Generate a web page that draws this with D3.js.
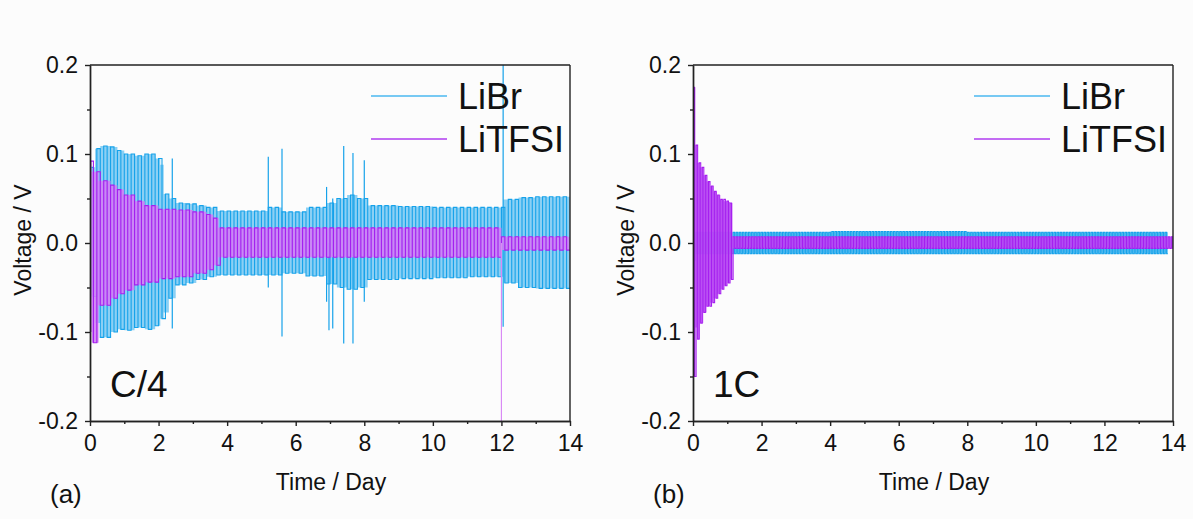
<!DOCTYPE html>
<html><head><meta charset="utf-8">
<script src="https://cdn.jsdelivr.net/npm/d3@7"></script>
<style>
html,body{margin:0;padding:0;background:#fcfcfc;}
svg{display:block;font-family:"Liberation Sans",Arial,sans-serif;}
</style></head><body>
<svg id="chart" width="1193" height="519"></svg>
<script>
// ---------------- data ----------------
const xTicks = [0, 2, 4, 6, 8, 10, 12, 14];
const xMinorTicks = [1, 3, 5, 7, 9, 11, 13];
const yTicks = [-0.2, -0.1, 0.0, 0.1, 0.2];
const yMinorTicks = [-0.15, -0.05, 0.05, 0.15];
const seriesNames = ["LiBr", "LiTFSI"];
const panelLabels = ["(a)", "(b)"];
const rateLabels = ["C/4", "1C"];
const xTitle = "Time / Day";
const yTitle = "Voltage / V";

// half-cycle duration (day) of the galvanostatic cycling
const c4HalfCycleDay = 0.1;
const oneCHalfCycleDay = 0.045;

// C/4, LiBr : envelope readings (day, upper, lower); last day = end of record
const c4LiBrDay  = [0.00, 0.15, 0.30, 0.60, 0.80, 1.00, 1.30, 1.60, 1.90, 2.05, 2.15, 2.30, 2.50, 2.80, 3.10, 3.40, 3.70, 5.20, 5.60, 6.30, 6.90, 7.20, 7.50, 7.80, 8.10, 9.00, 10.0, 11.0, 12.05, 12.5, 13.0, 14.0];
const c4LiBrHigh = [0.085, 0.106, 0.109, 0.108, 0.104, 0.100, 0.098, 0.100, 0.095, 0.088, 0.055, 0.050, 0.045, 0.044, 0.042, 0.040, 0.036, 0.040, 0.035, 0.040, 0.045, 0.050, 0.054, 0.050, 0.042, 0.041, 0.040, 0.040, 0.049, 0.051, 0.052, 0.052];
const c4LiBrLow  = [-0.060, -0.090, -0.106, -0.100, -0.097, -0.098, -0.095, -0.097, -0.093, -0.085, -0.078, -0.062, -0.047, -0.045, -0.041, -0.038, -0.036, -0.036, -0.034, -0.037, -0.046, -0.050, -0.052, -0.050, -0.041, -0.040, -0.039, -0.038, -0.045, -0.050, -0.051, -0.051];
const c4LiBrSpikeDay = [2.40, 2.40, 5.20, 5.20, 5.60, 5.60, 6.90, 6.90, 6.97, 7.08, 7.08, 7.40, 7.40, 7.67, 7.67, 8.00, 8.00, 12.05, 12.05];
const c4LiBrSpikeV   = [0.095, -0.096, 0.097, -0.050, 0.106, -0.105, 0.063, -0.066, -0.098, 0.050, -0.096, 0.109, -0.113, 0.101, -0.113, 0.093, -0.066, 0.200, -0.094];

// C/4, LiTFSI
const c4LiTFSIDay  = [0.00, 0.05, 0.25, 0.60, 0.80, 1.00, 1.30, 1.60, 2.00, 2.50, 3.00, 3.40, 3.60, 3.75, 12.0, 14.0];
const c4LiTFSIHigh = [0.092, 0.080, 0.070, 0.065, 0.060, 0.054, 0.047, 0.042, 0.038, 0.037, 0.035, 0.032, 0.028, 0.017, 0.007, 0.007];
const c4LiTFSILow  = [-0.100, -0.112, -0.070, -0.062, -0.057, -0.053, -0.047, -0.044, -0.040, -0.038, -0.034, -0.030, -0.025, -0.016, -0.008, -0.008];
const c4LiTFSISpikeDay = [12.0];
const c4LiTFSISpikeV   = [-0.200];

// 1C, LiBr
const oneCLiBrDay  = [0.00, 0.10, 1.15, 4.00, 8.00, 12.0, 13.85];
const oneCLiBrHigh = [0.012, 0.012, 0.012, 0.013, 0.012, 0.012, 0.012];
const oneCLiBrLow  = [-0.012, -0.012, -0.012, -0.012, -0.012, -0.012, -0.012];
const oneCLiBrSpikeDay = [0.03, 0.06];
const oneCLiBrSpikeV   = [0.158, -0.020];

// 1C, LiTFSI
const oneCLiTFSIDay  = [0.00, 0.07, 0.12, 0.20, 0.30, 0.40, 0.50, 0.60, 0.70, 0.80, 0.90, 1.00, 1.08, 1.15, 14.0];
const oneCLiTFSIHigh = [0.175, 0.110, 0.090, 0.085, 0.076, 0.069, 0.064, 0.058, 0.054, 0.049, 0.047, 0.046, 0.045, 0.007, 0.007];
const oneCLiTFSILow  = [-0.150, -0.095, -0.108, -0.090, -0.078, -0.071, -0.067, -0.062, -0.057, -0.052, -0.048, -0.045, -0.041, -0.006, -0.006];
const oneCLiTFSISpikeDay = [];
const oneCLiTFSISpikeV   = [];

// ---------------- styles ----------------
const styles = {
  LiBr:   {line: "#16a2ea", fill: "#7ecbf3", legend: "#4bb8f0"},
  LiTFSI: {line: "#a51ff0", fill: "#cf80f5", legend: "#b03cf0", spike: "#d98af5"}
};

const panels = [
  {left: 90, right: 570, top: 65, bottom: 421, half: c4HalfCycleDay,
   series: [
     {name: "LiBr", day: c4LiBrDay, hi: c4LiBrHigh, lo: c4LiBrLow, sDay: c4LiBrSpikeDay, sV: c4LiBrSpikeV},
     {name: "LiTFSI", day: c4LiTFSIDay, hi: c4LiTFSIHigh, lo: c4LiTFSILow, sDay: c4LiTFSISpikeDay, sV: c4LiTFSISpikeV}
   ]},
  {left: 693, right: 1173, top: 65, bottom: 421, half: oneCHalfCycleDay,
   series: [
     {name: "LiBr", day: oneCLiBrDay, hi: oneCLiBrHigh, lo: oneCLiBrLow, sDay: oneCLiBrSpikeDay, sV: oneCLiBrSpikeV},
     {name: "LiTFSI", day: oneCLiTFSIDay, hi: oneCLiTFSIHigh, lo: oneCLiTFSILow, sDay: oneCLiTFSISpikeDay, sV: oneCLiTFSISpikeV}
   ]}
];

const svg = d3.select("#chart");
const fmt = d => d.toFixed(1);

panels.forEach((p, pi) => {
  const x = d3.scaleLinear().domain([0, 14]).range([p.left, p.right]);
  const y = d3.scaleLinear().domain([-0.2, 0.2]).range([p.bottom, p.top]);
  const g = svg.append("g");

  const clipId = "clip" + pi;
  svg.append("clipPath").attr("id", clipId).append("rect")
    .attr("x", p.left).attr("y", p.top)
    .attr("width", p.right - p.left).attr("height", p.bottom - p.top);
  const plot = g.append("g").attr("clip-path", `url(#${clipId})`);

  p.series.forEach(s => {
    const st = styles[s.name];
    const rows = s.day.map((d, i) => ({d, hi: s.hi[i], lo: s.lo[i]}));
    // light band between envelope readings
    const area = d3.area().curve(d3.curveStepAfter)
      .x(r => x(r.d)).y0(r => y(r.lo)).y1(r => y(r.hi));
    plot.append("path").datum(rows).attr("d", area)
      .attr("fill", st.fill).attr("fill-opacity", 0.9);

    // square-wave cycling trace built from the envelope readings
    const end = s.day[s.day.length - 1];
    const look = t => rows[Math.max(0, d3.bisectRight(s.day, t) - 1)];
    const pts = [];
    for (let k = 0; s.day[0] + k * p.half < end; k++) {
      const t = s.day[0] + k * p.half;
      const r = look(t);
      pts.push([t, k % 2 === 0 ? r.hi : r.lo]);
    }
    let dStr = `M${x(pts[0][0])},${y(pts[0][1])}`;
    for (let k = 1; k < pts.length; k++) {
      dStr += `H${x(pts[k][0])}V${y(pts[k][1])}`;
    }
    dStr += `H${x(end)}`;
    plot.append("path").attr("d", dStr).attr("fill", "none")
      .attr("stroke", st.line).attr("stroke-width", 1.1);

    // isolated spikes
    plot.selectAll(null).data(s.sDay.map((d, i) => ({d, v: s.sV[i]})))
      .enter().append("line")
      .attr("x1", r => x(r.d)).attr("x2", r => x(r.d))
      .attr("y1", y(0)).attr("y2", r => y(r.v))
      .attr("stroke", st.spike || st.line).attr("stroke-width", 1.2);
  });

  // axes
  const axCol = "#222";
  g.append("g").attr("transform", `translate(0,${p.bottom})`)
    .call(d3.axisBottom(x).tickValues(xTicks).tickFormat(d3.format("d"))
      .tickSize(5).tickSizeOuter(0).tickPadding(9));
  g.append("g").attr("transform", `translate(0,${p.bottom})`)
    .call(d3.axisBottom(x).tickValues(xMinorTicks).tickFormat("")
      .tickSize(3).tickSizeOuter(0));
  g.append("g").attr("transform", `translate(${p.left},0)`)
    .call(d3.axisLeft(y).tickValues(yTicks).tickFormat(fmt)
      .tickSize(5).tickSizeOuter(0).tickPadding(7));
  g.append("g").attr("transform", `translate(${p.left},0)`)
    .call(d3.axisLeft(y).tickValues(yMinorTicks).tickFormat("")
      .tickSize(3).tickSizeOuter(0));
  g.selectAll(".domain, .tick line").attr("stroke", axCol).attr("stroke-width", 1.4);
  g.selectAll(".tick text").attr("fill", "#111")
    .style("font-size", "23px").style("font-family", '"Liberation Sans", Arial, sans-serif');

  // top / right frame
  g.append("line").attr("x1", p.left).attr("x2", p.right).attr("y1", p.top).attr("y2", p.top)
    .attr("stroke", axCol).attr("stroke-width", 1.4);
  g.append("line").attr("x1", p.right).attr("x2", p.right).attr("y1", p.top).attr("y2", p.bottom)
    .attr("stroke", axCol).attr("stroke-width", 1.4);

  // titles
  g.append("text").attr("x", (p.left + p.right) / 2 + 1).attr("y", 490)
    .attr("text-anchor", "middle").style("font-size", "23px").attr("fill", "#111").text(xTitle);
  g.append("text").attr("transform", `translate(${p.left - 59},${(p.top + p.bottom) / 2 - 3}) rotate(-90)`)
    .attr("text-anchor", "middle").style("font-size", "23px").attr("fill", "#111").text(yTitle);
  g.append("text").attr("x", p.left - 40).attr("y", 503)
    .style("font-size", "26px").attr("fill", "#111").text(panelLabels[pi]);
  g.append("text").attr("x", p.left + 20).attr("y", 397)
    .style("font-size", "37px").attr("fill", "#111").text(rateLabels[pi]);

  // legend
  seriesNames.forEach((n, i) => {
    const ly = 96 + i * 43;
    g.append("line").attr("x1", p.left + 281).attr("x2", p.left + 357)
      .attr("y1", ly).attr("y2", ly)
      .attr("stroke", styles[n].legend).attr("stroke-width", 1.6);
    g.append("text").attr("x", p.left + 368).attr("y", ly + 13)
      .style("font-size", "36px").attr("fill", "#111").text(n);
  });
});
</script>
</body></html>
